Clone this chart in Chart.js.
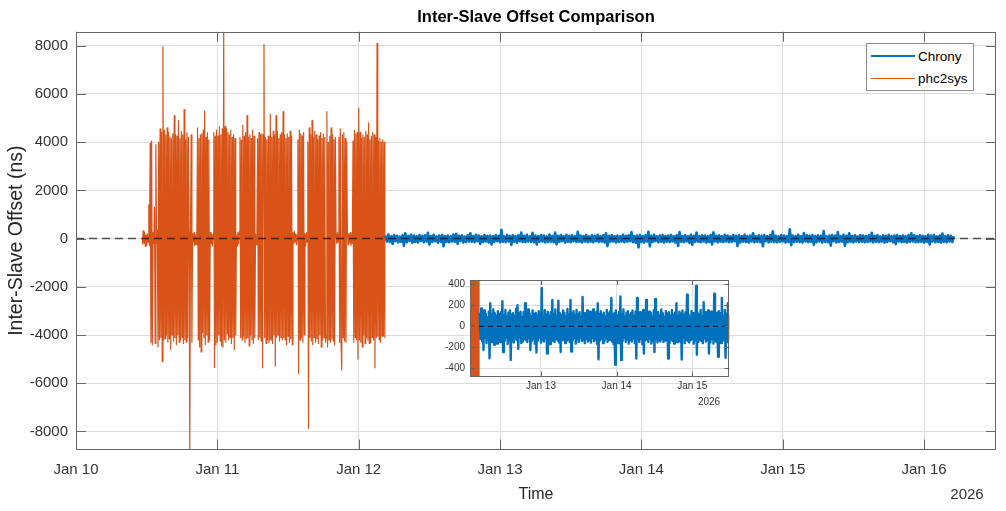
<!DOCTYPE html>
<html lang="en">
<head>
<meta charset="utf-8" />
<title>Inter-Slave Offset Comparison</title>
<script src="https://cdn.jsdelivr.net/npm/chart.js"></script>
<style>
    body { margin: 0; background: #fff; overflow: hidden; font-family: 'Liberation Sans', Arial, Helvetica, sans-serif; }
    #wrap { position: relative; width: 1006px; height: 511px; }
    canvas { position: absolute; }
    #main { left: 0; top: 0; }
    #inset { left: 430px; top: 276px; }
    #legend { position: absolute; left: 866px; top: 43px; width: 108px; height: 48px; box-sizing: border-box;
              border: 1px solid #8c8c8c; background: #fff; padding-top: 1px; }
    #legend .row { display: flex; align-items: center; height: 22px; }
    #legend .swatch { display: inline-block; width: 44px; margin-left: 4px; margin-right: 3px; }
    #legend .txt { font-size: 13.5px; color: #000; }
    .year { position: absolute; color: #333; transform: translate(-50%, -50%); white-space: nowrap; }
</style>
</head>
<body>
<div id="wrap">
    <canvas id="main" width="1006" height="511"></canvas>
    <canvas id="inset" width="310" height="134"></canvas>
    <div id="legend"></div>
    <div class="year" style="left: 967px; top: 493px; font-size: 15px;">2026</div>
    <div class="year" style="left: 709px; top: 401px; font-size: 10px;">2026</div>
</div>
<script>
// x values are days since Jan 10 2026 00:00
const dayLabels = ['Jan 10', 'Jan 11', 'Jan 12', 'Jan 13', 'Jan 14', 'Jan 15', 'Jan 16'];
const mainXTicks = [0, 1, 2, 3, 4, 5, 6];
const mainYTicks = [-8000, -6000, -4000, -2000, 0, 2000, 4000, 6000, 8000];
const insetXTicks = [3, 4, 5];
const insetYTicks = [-400, -200, 0, 200, 400];

// phc2sys samples, one every 0.005 day from Jan 10 ~11:17
const phcStart = 0.47;
const phcStep = 0.005;
const phcValues = [
    -250, 320, -180, 260, -320, 150, -280, 200, -150, 1400, -300, 3950, -4300, 4050, -4400, 250, -200, 1300, -4350, 3900,
    -200, 350, -4500, 4000, -4200, 4550, -4100, 4400, -5100, 7960, -4200, 4500, -4150, 4300, -4000, 4600, -4300, 4400, -4150, 4200,
    -4600, 4150, -4000, 4350, -4250, 5100, -4100, 4300, -4400, 4250, -4000, 4900, -4300, 4150, -4200, 4450, -4100, 4300, -4350, 5350,
    -4200, 4100, -4300, 4400, -4100, 4200, 250, -8750, 300, 4300, -4300, 200, -150, 250, -300, 150, -250, 200, 4600, -4200,
    4150, -4500, 4300, -4700, 4350, -3900, 4500, -4100, 5300, -4400, 4200, -4000, 4400, -4300, 4100, -4200, 250, -200, 150, -300,
    200, 4400, -5350, 4250, -4400, 4500, -4300, 4250, -4000, 4650, -4250, 4300, -4450, 4550, -4500, 8580, -4200, 4650, -4300, 4550,
    -3950, 4400, -4200, 4300, -4100, 4500, -4350, 4200, -4100, 4300, -4600, 4150, -4000, 150, -300, 250, -200, 300, 4200, -4100,
    4100, -4200, 4700, -4050, 4250, -4300, 4400, -4150, 5100, -4100, 4200, -4450, 4300, -4000, 4150, -4200, 4500, -4350, 4250, -4100,
    200, -250, 300, 4150, -4200, 4400, -4100, 4300, -4250, 4350, -5360, 4300, 8050, -4100, 4200, -4350, 4100, -4200, 4250, -4300,
    -4150, 5150, -4200, 4200, -4350, 4450, -4000, 4300, -5300, 5100, -4100, 4450, -4000, 4150, -4250, 4300, -4100, 4400, -4200, 5270,
    -4100, 4300, -4200, 4150, -4400, 4350, -4050, 4200, -4300, 4450, -4150, 4250, -4400, 250, -200, 300, -150, 200, -250, 150,
    4100, -5600, 4500, -4200, 4350, -4100, 4250, -4300, 4400, -4000, 200, -300, 250, -150, 4000, -7860, 4600, -4100, 4300, -4250,
    4900, -4400, 4200, -4100, 4450, -4300, 4300, -4150, 4100, -4350, 4250, -4000, 4400, -4500, 4150, -4200, 4350, -4100, 4200, -4300,
    -4100, 5270, -4500, 4000, -4200, 4250, -4300, 4600, -4150, 4300, -4250, 4100, -4400, 4200, 150, -200, 250, -150, 4200, -4300,
    4550, -4200, -5450, 4300, -4100, 4400, -4250, 4150, -4300, 4000, 300, -250, 200, -150, 250, -300, 150, -200, 4050, -4300,
    4500, -4100, 4350, -4200, 4400, -5000, 5410, -4200, 4400, -4300, 4150, -4500, 4300, -4000, 4200, -4350, 4450, -4100, 4300, -4200,
    4800, -4350, 4100, -4300, 4250, -4100, 4400, -4200, 4300, -5360, 4200, -4100, 8100, -4050, 4050, -4200, 4150, -4300, 4000, -4050,
    4100, -4050, 4000, -4100
];

// Chrony samples, one every 0.01 day from Jan 12 ~04:34
const chronyStart = 2.19;
const chronyStep = 0.01;
const chronyValues = [
    130, -120, 170, -140, 95, -225, 150, -110, 120, -160, 85, -130, 140, -305, 220, -150, 110, -100, 160, -175,
    125, -135, 100, -165, 145, -95, 115, -150, 135, -120, 240, -245, 105, -140, 155, -110, 90, -170, 130, -125,
    150, -320, 110, -135, 125, -155, 95, -115, 165, -130, 200, -215, 120, -100, 140, -160, 85, -145, 135, -120,
    220, -130, 105, -150, 160, -110, 125, -225, 95, -140, 150, -120, 115, -165, 130, -250, 100, -135, 145, -105,
    120, -155, 365, -130, 90, -145, 155, -115, 110, -260, 140, -125, 100, -170, 135, -110, 250, -140, 115, -150,
    160, -120, 95, -135, 245, -155, 125, -245, 105, -130, 150, -115, 130, -160, 90, -140, 165, -125, 110, -150,
    250, -240, 120, -135, 145, -110, 100, -165, 155, -125, 115, -150, 135, -105, 95, -140, 280, -130, 125, -160,
    110, -120, 150, -145, 90, -130, 140, -155, 120, -110, 160, -140, 100, -125, 135, -165, 220, -315, 115, -135,
    145, -120, 105, -160, 130, -140, 95, -115, 155, -150, 120, -130, 140, -105, 270, -145, 110, -170, 125, -365,
    150, -135, 100, -160, 135, -120, 285, -320, 115, -140, 160, -110, 90, -150, 130, -125, 145, -165, 105, -130,
    125, -145, 150, -115, 95, -160, 140, -307, 270, -130, 110, -150, 135, -120, 100, -170, 155, -260, 120, -135,
    250, -125, 105, -150, 140, -115, 130, -165, 95, -140, 150, -245, 260, -120, 115, -155, 135, -130, 100, -145,
    160, -120, 125, -150, 90, -135, 145, -110, 120, -307, 135, -160, 100, -125, 155, -140, 110, -165, 130, -115,
    220, -150, 95, -130, 140, -145, 120, -317, 150, -110, 105, -160, 135, -125, 300, -140, 115, -155, 90, -130,
    145, -120, 125, -165, 100, -135, 385, -270, 130, -150, 110, -125, 155, -140, 95, -160, 230, -115, 135, -145,
    120, -130, 150, -260, 105, -155, 140, -120, 115, -165, 310, -135, 95, -150, 130, -290, 145, -110, 125, -160,
    270, -140, 100, -125, 155, -300, 120, -150, 220, -135, 110, -165, 140, -120, 95, -145, 150, -130, 125, -155,
    105, -140, 135, -115, 240, -160, 120, -130, 150, -145, 90, -125, 140, -165, 115, -135, 155, -110, 100, -150,
    130, -230, 145, -120, 110, -155, 125, -140, 95, -165, 150, -130, 220, -115, 135, -150, 105, -145, 140, -125,
    120, -160, 100, -135, 155, -250, 130, -115, 145, -150, 90, -140, 125, -165, 210, -130, 110, -155, 135, -120,
    115, -140, 100
];

const chronyColor = '#0072BD';
const phcColor = '#D95319';
const gridColor = '#dcdcdc';
const boxColor = '#666666';

const phcPoints = phcValues.map((v, i) => ({ x: phcStart + i * phcStep, y: v }));
const chronyPoints = chronyValues.map((v, i) => ({ x: chronyStart + i * chronyStep, y: v }));

Chart.defaults.font.family = "'Liberation Sans', Arial, Helvetica, sans-serif";
Chart.defaults.color = '#333333';

// axes box, inward ticks and the dashed zero line, MATLAB style
const axesFrame = {
    id: 'axesFrame',
    beforeDraw(chart, args, opts) {
        if (!opts.fill) return;
        const a = chart.chartArea;
        chart.ctx.save();
        chart.ctx.fillStyle = opts.fill;
        chart.ctx.fillRect(a.left, a.top, a.right - a.left, a.bottom - a.top);
        chart.ctx.restore();
    },
    afterDatasetsDraw(chart, args, opts) {
        const { ctx, chartArea: a, scales: { x, y } } = chart;
        ctx.save();
        const y0 = y.getPixelForValue(0);
        ctx.beginPath();
        ctx.setLineDash(opts.dash);
        ctx.lineWidth = opts.zeroWidth;
        ctx.strokeStyle = 'rgba(0,0,0,0.65)';
        ctx.moveTo(a.left, y0);
        ctx.lineTo(a.right, y0);
        ctx.stroke();
        ctx.setLineDash([]);

        ctx.strokeStyle = boxColor;
        ctx.lineWidth = 1;
        ctx.beginPath();
        x.ticks.forEach(t => {
            const px = Math.round(x.getPixelForValue(t.value)) + 0.5;
            ctx.moveTo(px, a.bottom); ctx.lineTo(px, a.bottom - opts.tick);
            ctx.moveTo(px, a.top); ctx.lineTo(px, a.top + opts.tick);
        });
        y.ticks.forEach(t => {
            const py = Math.round(y.getPixelForValue(t.value)) + 0.5;
            ctx.moveTo(a.left, py); ctx.lineTo(a.left + opts.tick, py);
            ctx.moveTo(a.right, py); ctx.lineTo(a.right - opts.tick, py);
        });
        ctx.stroke();
        ctx.strokeRect(Math.round(a.left) + 0.5, Math.round(a.top) + 0.5,
                       Math.round(a.right - a.left) - 1, Math.round(a.bottom - a.top) - 1);
        ctx.restore();
    }
};

function dayTick(v) {
    return dayLabels[v] || '';
}

function tickSetter(values) {
    return s => { s.ticks = values.map(v => ({ value: v })); };
}

function makeDatasets(chronyWidth, phcWidth) {
    return [
        { label: 'Chrony', data: chronyPoints, borderColor: chronyColor, borderWidth: chronyWidth,
          pointRadius: 0, borderJoinStyle: 'round', order: 1 },
        { label: 'phc2sys', data: phcPoints, borderColor: phcColor, borderWidth: phcWidth,
          pointRadius: 0, borderJoinStyle: 'round', order: 2 }
    ];
}

const mainChart = new Chart(document.getElementById('main'), {
    type: 'line',
    data: { datasets: makeDatasets(2.6, 1.2) },
    options: {
        responsive: false,
        animation: false,
        events: [],
        layout: { padding: { left: 0, right: 10, top: 0, bottom: 0 } },
        elements: { line: { tension: 0 } },
        scales: {
            x: {
                type: 'linear', min: 0, max: 6.509,
                afterBuildTicks: tickSetter(mainXTicks),
                ticks: { autoSkip: false, maxRotation: 0, padding: 11, font: { size: 15 }, callback: dayTick },
                grid: { color: gridColor, drawTicks: false },
                border: { display: false },
                title: { display: true, text: 'Time', font: { size: 16 }, color: '#262626',
                         padding: { top: 0, bottom: 6.4 } },
                afterFit: s => { s.height = 61.5; }
            },
            y: {
                min: -8750, max: 8580,
                afterBuildTicks: tickSetter(mainYTicks),
                ticks: { padding: 8, font: { size: 15 }, callback: v => String(v) },
                grid: { color: gridColor, drawTicks: false },
                border: { display: false },
                title: { display: true, text: 'Inter-Slave Offset (ns)', font: { size: 19.5 }, color: '#262626',
                         padding: { top: 4.8, bottom: 0 } },
                afterFit: s => { s.width = 76; s.paddingTop = 0; s.paddingBottom = 0; }
            }
        },
        plugins: {
            legend: { display: false },
            tooltip: { enabled: false },
            title: { display: true, fullSize: false, text: 'Inter-Slave Offset Comparison', color: '#000',
                     font: { size: 16.5, weight: 'bold' }, padding: { top: 8, bottom: 4 } },
            axesFrame: { tick: 10, dash: [8, 5], zeroWidth: 1.5 }
        }
    },
    plugins: [axesFrame]
});

const insetChart = new Chart(document.getElementById('inset'), {
    type: 'line',
    data: { datasets: makeDatasets(2.4, 1) },
    options: {
        responsive: false,
        animation: false,
        events: [],
        layout: { padding: { left: 0, right: 10.7, top: 4, bottom: 0 } },
        elements: { line: { tension: 0 } },
        scales: {
            x: {
                type: 'linear', min: 2.062, max: 5.489,
                afterBuildTicks: tickSetter(insetXTicks),
                ticks: { autoSkip: false, maxRotation: 0, padding: 4, font: { size: 10 }, callback: dayTick },
                grid: { color: gridColor, drawTicks: false },
                border: { display: false },
                afterFit: s => { s.height = 33.3; }
            },
            y: {
                min: -480, max: 441,
                afterBuildTicks: tickSetter(insetYTicks),
                ticks: { padding: 5, font: { size: 10 }, callback: v => String(v) },
                grid: { color: gridColor, drawTicks: false },
                border: { display: false },
                afterFit: s => { s.width = 40; s.paddingTop = 0; s.paddingBottom = 0; }
            }
        },
        plugins: {
            legend: { display: false },
            tooltip: { enabled: false },
            axesFrame: { tick: 5, dash: [5, 4], zeroWidth: 1.2, fill: '#ffffff' }
        }
    },
    plugins: [axesFrame]
});

// MATLAB-like legend box inside the axes
const legendBox = document.getElementById('legend');
mainChart.data.datasets.forEach(ds => {
    const row = document.createElement('div');
    row.className = 'row';
    const sw = document.createElement('span');
    sw.className = 'swatch';
    sw.style.borderTop = Math.min(Math.max(ds.borderWidth, 1.5), 2.5) + 'px solid ' + ds.borderColor;
    const tx = document.createElement('span');
    tx.className = 'txt';
    tx.textContent = ds.label;
    row.appendChild(sw);
    row.appendChild(tx);
    legendBox.appendChild(row);
});
</script>
</body>
</html>
